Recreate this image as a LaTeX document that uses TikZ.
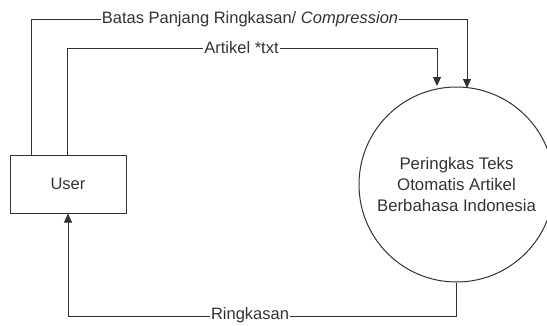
\documentclass[tikz,border=0pt]{standalone}
\usepackage{fontspec}
\setmainfont{Liberation Sans}
\usetikzlibrary{arrows.meta,calc}
\definecolor{ink}{HTML}{333333}
\tikzset{
  flow/.style={draw=ink, line width=1pt},
  flowarrow/.style={flow, -{Triangle[length=9pt,width=8pt]}},
  entity/.style={draw=ink, line width=1pt, minimum width=116pt, minimum height=58pt, inner sep=0pt},
  process/.style={circle, draw=ink, line width=1pt, minimum size=195pt, inner sep=0pt, align=center,
    font=\fontsize{16.8}{21}\selectfont, text=ink},
  flowlabel/.style={fill=white, inner sep=1pt, font=\fontsize{16.5}{20}\selectfont, text=ink}
}
\begin{document}
\begin{tikzpicture}[x=1pt, y=-1pt]
\useasboundingbox (0,0) rectangle (547,325);
\clip (0,0) rectangle (547,325);

% external entity and process
\node[entity, font=\fontsize{16.5}{20}\selectfont, text=ink] (user) at (68,184) {User};
\node[process] (proc) at (456.5,184.5) {Peringkas Teks\\Otomatis Artikel\\Berbahasa Indonesia};

% bend points of the three flows
\coordinate (c1) at (31,19);
\coordinate (c2) at (467,19);
\coordinate (c3) at (467,88);
\coordinate (d1) at (67,48);
\coordinate (d2) at (437,48);
\coordinate (d3) at (437,86);
\coordinate (e1) at (456.5,316);
\coordinate (e2) at (68,316);

% compression limit flow
\draw[flowarrow] (user.north -| c1) -- (c1) -- (c2) -- (c3);
% article flow
\draw[flowarrow] (user.north -| d1) -- (d1) -- (d2) -- (d3);
% summary flow
\draw[flowarrow] (proc.south) -- (e1) -- (e2) -- (user.south);

% flow labels
\node[flowlabel] (l1) at (250,19) {Batas Panjang Ringkasan/ \textit{Compression}};
\node[flowlabel] (l2) at (241.5,48) {Artikel *txt};
\node[flowlabel] (l3) at (250,315) {Ringkasan};
\end{tikzpicture}
\end{document}
